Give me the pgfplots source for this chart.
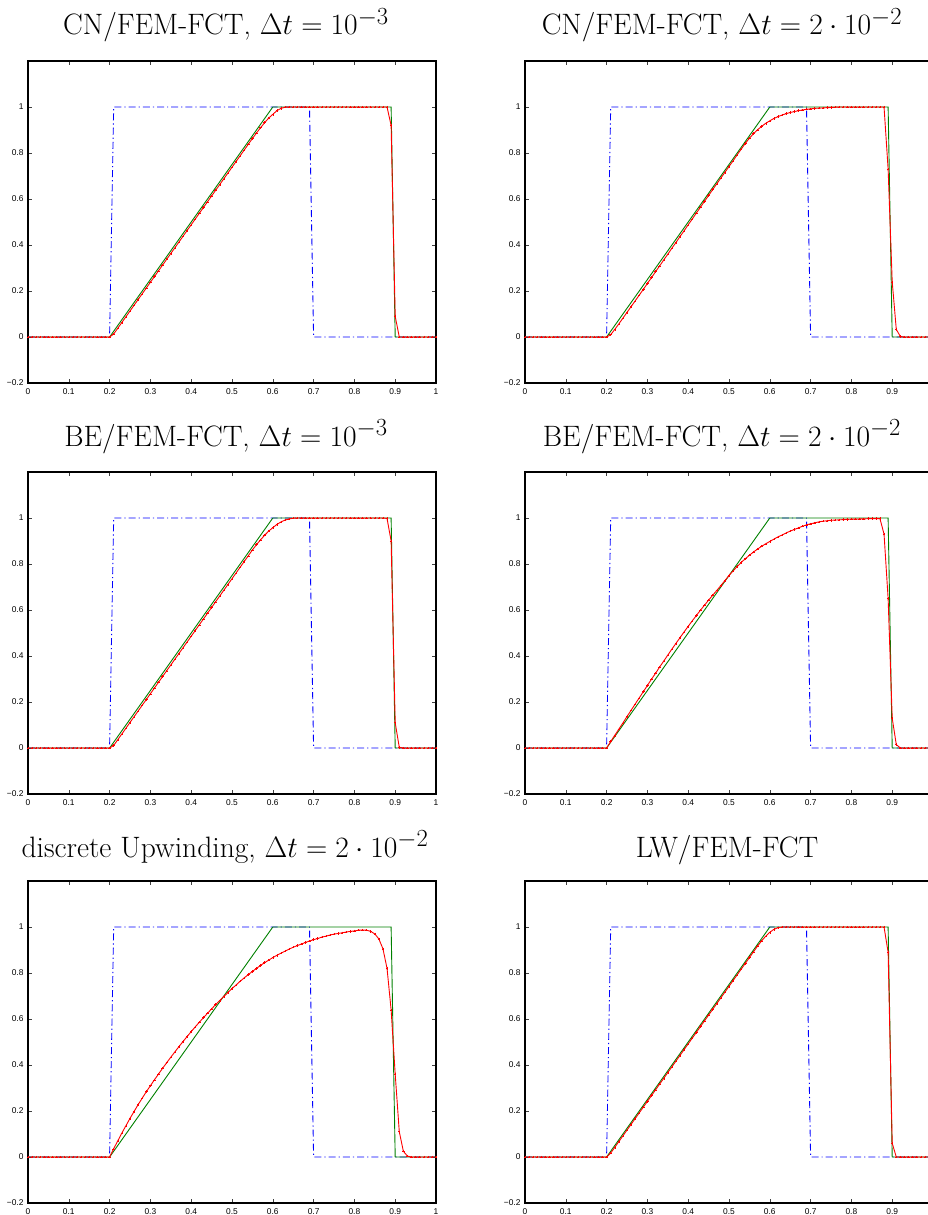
\documentclass[border=0pt]{standalone}
\usepackage{fontspec}
\usepackage{graphicx}
\usepackage{pgfplots}
\usepackage{pgfplotstable}
\pgfplotsset{compat=1.18}
\newfontfamily\tickfont{Liberation Sans}
\definecolor{mgreen}{rgb}{0,0.5,0}

% numerical solutions at the nodes x = 0, 0.01, ..., 1
% r1: CN dt=1e-3, r2: CN dt=2e-2, r3: BE dt=1e-3, r4: BE dt=2e-2,
% r5: discrete upwinding dt=2e-2, r6: LW/FEM-FCT
\pgfplotstableread{
x r1 r2 r3 r4 r5 r6
0.00 0 0 0 0 0 0
0.01 0 0 0 0 0 0
0.02 0 0 0 0 0 0
0.03 0 0 0 0 0 0
0.04 0 0 0 0 0 0
0.05 0 0 0 0 0 0
0.06 0 0 0 0 0 0
0.07 0 0 0 0 0 0
0.08 0 0 0 0 0 0
0.09 0 0 0 0 0 0
0.10 0 0 0 0 0 0
0.11 0 0 0 0 0 0
0.12 0 0 0 0 0 0
0.13 0 0 0 0 0 0
0.14 0 0 0 0 0 0
0.15 0 0 0 0 0 0
0.16 0 0 0 0 0 0
0.17 0 0 0 0 0 0
0.18 0 0 0 0 0 0
0.19 0 0 0 0 0 0
0.20 0 0 0 0 0 0
0.21 0.013 0.010 0.011 0.028 0.036 0.017
0.22 0.038 0.033 0.036 0.055 0.070 0.042
0.23 0.063 0.057 0.061 0.082 0.104 0.067
0.24 0.088 0.082 0.086 0.109 0.136 0.092
0.25 0.113 0.107 0.111 0.137 0.168 0.117
0.26 0.138 0.132 0.136 0.164 0.198 0.142
0.27 0.163 0.157 0.161 0.191 0.228 0.167
0.28 0.188 0.182 0.186 0.218 0.256 0.192
0.29 0.213 0.207 0.211 0.245 0.284 0.217
0.30 0.238 0.233 0.236 0.272 0.310 0.242
0.31 0.263 0.258 0.261 0.299 0.336 0.267
0.32 0.288 0.284 0.286 0.325 0.361 0.292
0.33 0.313 0.309 0.311 0.352 0.386 0.317
0.34 0.338 0.335 0.336 0.378 0.410 0.342
0.35 0.363 0.360 0.361 0.404 0.434 0.367
0.36 0.388 0.386 0.386 0.430 0.457 0.392
0.37 0.413 0.411 0.411 0.455 0.480 0.417
0.38 0.438 0.437 0.436 0.480 0.502 0.442
0.39 0.463 0.462 0.461 0.505 0.524 0.467
0.40 0.488 0.488 0.486 0.529 0.545 0.492
0.41 0.513 0.513 0.511 0.553 0.566 0.517
0.42 0.538 0.539 0.536 0.576 0.586 0.542
0.43 0.563 0.564 0.561 0.599 0.606 0.567
0.44 0.588 0.590 0.586 0.621 0.625 0.592
0.45 0.613 0.615 0.611 0.643 0.644 0.617
0.46 0.638 0.641 0.636 0.664 0.663 0.642
0.47 0.663 0.666 0.661 0.685 0.681 0.667
0.48 0.688 0.691 0.686 0.706 0.698 0.692
0.49 0.713 0.716 0.711 0.728 0.715 0.717
0.50 0.738 0.741 0.736 0.750 0.732 0.742
0.51 0.763 0.766 0.761 0.770 0.748 0.767
0.52 0.788 0.792 0.786 0.789 0.764 0.792
0.53 0.813 0.817 0.811 0.807 0.779 0.817
0.54 0.838 0.842 0.836 0.823 0.793 0.842
0.55 0.863 0.864 0.861 0.838 0.807 0.867
0.56 0.887 0.884 0.884 0.852 0.820 0.892
0.57 0.910 0.901 0.905 0.865 0.833 0.917
0.58 0.932 0.916 0.925 0.877 0.845 0.940
0.59 0.952 0.929 0.943 0.888 0.856 0.960
0.60 0.968 0.940 0.958 0.898 0.867 0.977
0.61 0.984 0.950 0.972 0.908 0.877 0.990
0.62 0.994 0.958 0.983 0.918 0.886 0.997
0.63 0.999 0.965 0.991 0.926 0.895 1
0.64 1 0.971 0.996 0.935 0.904 1
0.65 1 0.976 0.999 0.943 0.912 1
0.66 1 0.980 1 0.950 0.919 1
0.67 1 0.984 1 0.957 0.926 1
0.68 1 0.987 1 0.964 0.933 1
0.69 1 0.990 1 0.970 0.939 1
0.70 1 0.992 1 0.975 0.945 1
0.71 1 0.994 1 0.979 0.950 1
0.72 1 0.995 1 0.983 0.956 1
0.73 1 0.996 1 0.986 0.960 1
0.74 1 0.997 1 0.988 0.965 1
0.75 1 0.998 1 0.990 0.969 1
0.76 1 0.999 1 0.991 0.972 1
0.77 1 1 1 0.992 0.975 1
0.78 1 1 1 0.993 0.978 1
0.79 1 1 1 0.994 0.981 1
0.80 1 1 1 0.995 0.983 1
0.81 1 1 1 0.995 0.986 1
0.82 1 1 1 0.996 0.987 1
0.83 1 1 1 0.996 0.986 1
0.84 1 1 1 0.997 0.981 1
0.85 1 1 1 0.997 0.970 1
0.86 1 1 1 0.997 0.948 1
0.87 1 1 1 0.997 0.905 1
0.88 1 1 0.998 0.930 0.820 1
0.89 0.920 0.730 0.900 0.650 0.640 0.890
0.90 0.090 0.240 0.110 0.130 0.360 0.060
0.91 0 0.033 0.003 0.015 0.110 0
0.92 0 0.002 0 0 0.025 0
0.93 0 0 0 0 0.004 0
0.94 0 0 0 0 0 0
0.95 0 0 0 0 0 0
0.96 0 0 0 0 0 0
0.97 0 0 0 0 0 0
0.98 0 0 0 0 0 0
0.99 0 0 0 0 0 0
1.00 0 0 0 0 0 0
}\numsol

\pgfplotsset{
  panel/.style={
    scale only axis, width=408pt, height=322pt,
    xmin=0, xmax=1, ymin=-0.2, ymax=1.2,
    xtick={0,0.1,0.2,0.3,0.4,0.5,0.6,0.7,0.8,0.9,1},
    xticklabels={0,0.1,0.2,0.3,0.4,0.5,0.6,0.7,0.8,0.9,1},
    ytick={-0.2,0,0.2,0.4,0.6,0.8,1},
    yticklabels={−0.2,0,0.2,0.4,0.6,0.8,1},
    tick align=inside, xtick pos=both, ytick pos=both,
    major tick length=4pt,
    tick style={black!75, line width=0.6pt},
    axis line style={line width=1.1pt},
    ticklabel style={font=\tickfont\fontsize{8.4}{9.5}\selectfont},
    xticklabel style={yshift=-2.5pt},
    yticklabel style={xshift=-1pt},
  },
  % the right-hand panels run past the page edge, so their last label is left out
  rightpanel/.style={panel,
    xticklabels={0,0.1,0.2,0.3,0.4,0.5,0.6,0.7,0.8,0.9,{}}},
  ic/.style={blue, line width=0.9pt, dash pattern=on 7pt off 3pt on 1.2pt off 3pt},
  exact/.style={mgreen, line width=0.9pt},
  fct/.style={red, line width=0.9pt, mark=+, mark size=1.2pt,
    mark options={solid, line width=0.45pt}},
}

\newcommand{\panelcurves}[1]{%
  \addplot[ic] coordinates {(0,0) (0.2,0) (0.21,1) (0.69,1) (0.7,0) (1,0)};
  \addplot[exact] coordinates {(0,0) (0.2,0) (0.6,1) (0.89,1) (0.9,0) (1,0)};
  \addplot[fct] table[x=x, y=#1] {\numsol};
}
% panel titles: \Huge scaled up to the wanted size
\newcommand{\ttl}[1]{\scalebox{1.186}{\Huge #1}}

\begin{document}
\begin{tikzpicture}
\path[use as bounding box] (0,0) rectangle (928pt,-1215pt);
\clip (0,0) rectangle (928pt,-1215pt);

\tikzset{ttl/.style={anchor=base, inner sep=0pt}}

% row 1
\node[ttl] at (226pt,-35pt) {\ttl{CN/FEM-FCT, $\Delta t=10^{-3}$}};
\node[ttl] at (722pt,-35pt) {\ttl{CN/FEM-FCT, $\Delta t=2\cdot10^{-2}$}};
\begin{axis}[panel, at={(28pt,-61pt)}, anchor=north west]
  \panelcurves{r1}
\end{axis}
\begin{axis}[rightpanel, at={(525pt,-61pt)}, anchor=north west]
  \panelcurves{r2}
\end{axis}

% row 2
\node[ttl] at (226pt,-446pt) {\ttl{BE/FEM-FCT, $\Delta t=10^{-3}$}};
\node[ttl] at (722pt,-446pt) {\ttl{BE/FEM-FCT, $\Delta t=2\cdot10^{-2}$}};
\begin{axis}[panel, at={(28pt,-472pt)}, anchor=north west]
  \panelcurves{r3}
\end{axis}
\begin{axis}[rightpanel, at={(525pt,-472pt)}, anchor=north west]
  \panelcurves{r4}
\end{axis}

% row 3
\node[ttl] at (225pt,-857pt) {\ttl{discrete Upwinding, $\Delta t=2\cdot10^{-2}$}};
\node[ttl] at (727pt,-857pt) {\ttl{LW/FEM-FCT}};
\begin{axis}[panel, at={(28pt,-881pt)}, anchor=north west]
  \panelcurves{r5}
\end{axis}
\begin{axis}[rightpanel, at={(525pt,-881pt)}, anchor=north west]
  \panelcurves{r6}
\end{axis}
\end{tikzpicture}
\end{document}
